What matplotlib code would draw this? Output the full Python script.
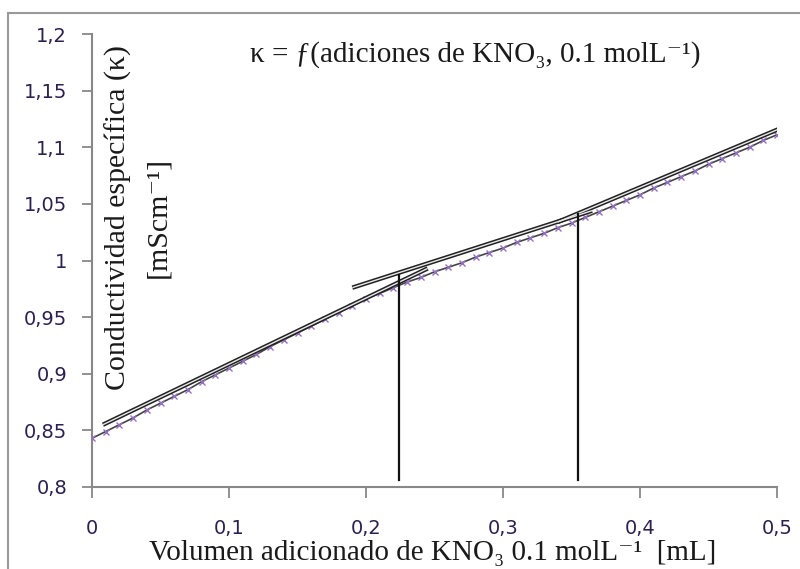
import matplotlib
matplotlib.use("Agg")
import matplotlib.pyplot as plt
from matplotlib.patches import Rectangle

# volumen adicionado [mL] y conductividad [mS/cm]
volumen = [0.00, 0.01, 0.02, 0.03, 0.04, 0.05, 0.06, 0.07, 0.08, 0.09,
           0.10, 0.11, 0.12, 0.13, 0.14, 0.15, 0.16, 0.17, 0.18, 0.19,
           0.20, 0.21, 0.22, 0.23, 0.24, 0.25, 0.26, 0.27, 0.28, 0.29,
           0.30, 0.31, 0.32, 0.33, 0.34, 0.35, 0.36, 0.37, 0.38, 0.39,
           0.40, 0.41, 0.42, 0.43, 0.44, 0.45, 0.46, 0.47, 0.48, 0.49, 0.50]
kappa = [0.843, 0.849, 0.855, 0.861, 0.868, 0.874, 0.880, 0.886, 0.893, 0.899,
         0.905, 0.911, 0.917, 0.924, 0.930, 0.936, 0.942, 0.948, 0.954, 0.960,
         0.966, 0.971, 0.976, 0.981, 0.985, 0.990, 0.994, 0.998, 1.003, 1.007,
         1.011, 1.016, 1.020, 1.024, 1.029, 1.033, 1.038, 1.043, 1.048, 1.053,
         1.058, 1.064, 1.069, 1.074, 1.079, 1.085, 1.090, 1.095, 1.100, 1.106, 1.111]

# rectas de ajuste (x inicio, x fin), (y inicio, y fin)
rectas = [
    ([0.008, 0.245], [0.855, 0.993]),
    ([0.190, 0.365], [0.976, 1.044]),
    ([0.340, 0.511], [1.034, 1.121]),
]
# puntos de equivalencia
equiv_x = [0.224, 0.355]
equiv_top = [0.987, 1.041]
equiv_bottom = 0.806

xticks = [0, 0.1, 0.2, 0.3, 0.4, 0.5]
xticklabels = ['0', '0,1', '0,2', '0,3', '0,4', '0,5']
yticks = [0.8, 0.85, 0.9, 0.95, 1.0, 1.05, 1.1, 1.15, 1.2]
yticklabels = ['0,8', '0,85', '0,9', '0,95', '1', '1,05', '1,1', '1,15', '1,2']

serif = ['Liberation Serif', 'DejaVu Serif']
tickcol = '#2d2050'
txtcol = '#1a1a1a'

fig = plt.figure(figsize=(8, 5.69), dpi=100)
fig.patches.append(Rectangle((8/800, -0.1), 1.2, 1 - 13/569 + 0.1, transform=fig.transFigure,
                             fill=False, edgecolor='#999999', lw=1.5))
ax = fig.add_axes([92/800, 1 - 487/569, 685/800, 453/569])

ax.plot(volumen, kappa, color='#444444', lw=1.2, marker='x', ms=5,
        mec='#9370c0', mew=1.0, zorder=3)
for xs, ys in rectas:
    ax.plot(xs, ys, color='#222222', lw=3.2, solid_capstyle='butt', zorder=4)
    ax.plot(xs, ys, color='#e8e8e8', lw=1.0, solid_capstyle='butt', zorder=5)
for x, top in zip(equiv_x, equiv_top):
    ax.plot([x, x], [equiv_bottom, top], color='#111111', lw=1.6, zorder=6)

ax.set_xlim(0, 0.5)
ax.set_ylim(0.8, 1.2)
ax.set_xticks(xticks)
ax.set_xticklabels(xticklabels)
ax.set_yticks(yticks)
ax.set_yticklabels(yticklabels)
ax.tick_params(axis='x', length=8, width=1.3, color='#888888', pad=15,
               labelsize=14, labelcolor=tickcol)
ax.tick_params(axis='y', length=7, width=1.3, color='#888888', pad=11,
               labelsize=14, labelcolor=tickcol)
for s in ['top', 'right']:
    ax.spines[s].set_visible(False)
for s in ['left', 'bottom']:
    ax.spines[s].set_color('#888888')
    ax.spines[s].set_linewidth(1.5)

fig.text(475/800, 1 - 55/569, 'κ = ƒ(adiciones de KNO₃, 0.1 molL⁻¹)',
         ha='center', va='center', fontsize=21, family=serif, color=txtcol)
fig.text(118/800, 1 - 217/569, 'Conductividad específica (κ)', rotation=90,
         ha='center', va='center', fontsize=21.5, family=serif, color=txtcol)
fig.text(158/800, 1 - 217/569, '[mScm⁻¹]', rotation=90,
         ha='center', va='center', fontsize=21.5, family=serif, color=txtcol)
fig.text(433/800, 1 - 553/569, 'Volumen adicionado de KNO₃ 0.1 molL⁻¹  [mL]',
         ha='center', va='center', fontsize=21, family=serif, color=txtcol)

fig.savefig('out.png', dpi=100)
